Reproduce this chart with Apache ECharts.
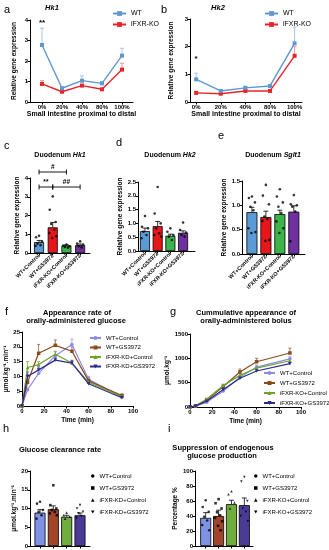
<!DOCTYPE html>
<html><head><meta charset="utf-8">
<script src="https://cdn.jsdelivr.net/npm/echarts@6/dist/echarts.min.js"></script>
<style>html,body{margin:0;padding:0;background:#fff}#c{width:329px;height:550px}</style>
</head><body><div id="c"></div><script>
// ---------- DATA ----------
const pctLabels = ['0%','20%','40%','80%','100%'];
const hk1WT = [2.78,0.67,1.04,0.91,2.26];
const hk1WTErr = [0.82,0.04,0.23,0.07,0.36];
const hk1KO = [0.88,0.50,0.80,0.62,1.58];
const hk1KOErr = [0.16,0.04,0.06,0.04,0.31];
const hk2WT = [0.82,0.40,0.51,0.58,2.12];
const hk2WTErr = [0.22,0.04,0.06,0.05,0.58];
const hk2KO = [0.33,0.30,0.40,0.40,1.67];
const hk2KOErr = [0.03,0.02,0.03,0.03,0.33];

const groupLabels = ['WT+Control','WT+GS3972','iFXR-KO+Control','iFXR-KO+GS3972'];
const duoHk1 = [0.58,1.37,0.40,0.42];
const duoHk1Err = [0.09,0.26,0.03,0.06];
const duoHk1Dots = [[0.92,0.84,0.62,0.50,0.42,0.38],[3.02,2.31,1.65,1.55,1.24,1.07,0.89,0.80],[0.45,0.40,0.36,0.32,0.28],[0.62,0.50,0.45,0.36,0.30]];
const duoHk2 = [0.72,0.90,0.55,0.66];
const duoHk2Err = [0.11,0.17,0.06,0.07];
const duoHk2Dots = [[1.27,0.88,0.82,0.70,0.58,0.46],[2.32,1.36,1.00,0.82,0.64,0.58,0.52],[0.82,0.70,0.58,0.52,0.40],[1.03,0.76,0.67,0.58,0.52]];
const duoSglt1 = [0.86,0.76,0.82,0.87];
const duoSglt1Err = [0.10,0.12,0.08,0.12];
const duoSglt1Dots = [[1.18,1.15,1.06,0.97,0.90,0.53,0.45,0.43],[1.42,1.20,1.02,0.77,0.72,0.68,0.29,0.27],[1.33,1.18,1.06,0.97,0.84,0.67,0.53,0.43],[1.21,1.02,1.00,0.97,0.87,0.26]];

const timeMin = [0,5,15,30,45,60,90];
const fNames = ['WT+Control','WT+GS3972','iFXR-KD+Control','iFXR-KD+GS3972'];
const raWTCtrl = [0,5.5,11,17,20.8,9,3];
const raWTGS = [0,8,17.8,20.5,18.5,8.5,3.5];
const raKOCtrl = [0,13,14,17.5,14.5,8,3.2];
const raKOGS = [0,10,12.2,15.5,14.5,7.5,2.8];
const raWTCtrlErr = [0,0.6,1,1.3,1.8,1,0.5];
const raWTGSErr = [0,2.5,3,1.8,1.5,1,0.6];
const raKOCtrlErr = [0,2,1,1,1,0.8,0.5];
const raKOGSErr = [0,1.5,1,1,0.8,0.5,0.4];

const gNames = ['WT+Control','WT+GS3972','iFXR-KO+Control','iFXR-KO+GS3972'];
const cumWTCtrl = [0,10,100,330,610,820,990];
const cumWTGS = [0,20,140,420,720,930,1110];
const cumKOCtrl = [0,30,160,440,650,800,950];
const cumKOGS = [0,20,120,360,590,740,890];
const cumWTCtrlErr = [0,5,15,30,40,45,50];
const cumWTGSErr = [0,8,20,40,60,70,100];
const cumKOCtrlErr = [0,8,20,30,40,40,45];
const cumKOGSErr = [0,5,15,25,30,35,40];

const hNames = ['WT+Control','WT+GS3972','iFXR-KD+Control','iFXR-KD+GS3972'];
const clearance = [8.9,9.8,7.8,8.2];
const clearanceErr = [0.8,0.9,0.4,0.6];
const clearanceDots = [[11.8,11.3,9.6,9.1,8.2,7.3],[16.2,10.9,10.0,9.6,9.1,8.7,8.2],[8.9,8.2,7.8,7.3],[10.9,10.0,9.1,8.7,8.0,7.5]];
const iNames = ['WT+Control','WT+GS3972','iFXR-KO+Control','iFXR-KO+GS3972'];
const suppression = [37.5,40,55.8,54.5];
const suppressionErr = [7,7.8,5.2,9.5];
const suppressionDots = [[61,52,45.5,39,34,28,21],[62.5,57,50,45,41,37.5,33,27,21],[73,69,58,50],[92,86,60,50,45.5,40,33]];

// ---------- STYLE ----------
const FONT = '"Liberation Sans", Arial, sans-serif';
const WT_C = '#5f97d0', KO_C = '#e8232a';
const BAR1 = ['#5b9bd5','#e8161b','#3bb54a','#7030a0'];
const BAR2 = ['#7f93e6','#a4452b','#6fae3c','#4a3c96'];
const LINE4 = ['#8c8ce8','#8b4a1c','#6aa52a','#2e2a8c'];
const INVTRI = 'path://M0,0 L10,0 L5,9 Z';
const SYM4 = ['circle','rect','triangle',INVTRI];
const JIT = [0,-3,3,-1.5,1.5,-3.5,3.5,-0.5,2,-2];

const grids = [
  {left:30, top:20, width:103, height:82},   // a
  {left:190, top:19, width:112, height:83},  // b
  {left:30, top:178, width:60, height:75},   // c
  {left:138, top:182, width:57, height:69},  // d
  {left:242, top:181, width:63, height:73},  // e
  {left:22, top:332, width:111, height:74},  // f
  {left:190, top:334, width:111, height:73}, // g
  {left:30, top:471, width:60, height:75},   // h
  {left:195, top:471, width:58, height:75}   // i
];

const axLine = {show:true, onZero:false, lineStyle:{color:'#000', width:1}};
const tickLab = {fontFamily:FONT, fontSize:6, fontWeight:'bold', color:'#000', margin:2};
function yAx(gi, min, max, interval, name, nameGap, fmt) {
  return {gridIndex:gi, type:'value', min, max, interval, name, nameLocation:'middle', nameGap,
    nameTextStyle:{fontFamily:FONT, fontSize:6.5, fontWeight:'bold', color:'#000'},
    axisLine:axLine, axisTick:{show:true, length:2.5, lineStyle:{color:'#000', width:1}},
    axisLabel:Object.assign({}, tickLab, {formatter: fmt || (v => String(v))}), splitLine:{show:false}};
}
function xCat(gi, min, max, labels, opts) {
  const vals = labels.map((_, i) => i);
  opts = opts || {};
  return {gridIndex:gi, type:'value', min, max, name:opts.name || '', nameLocation:'middle', nameGap:opts.nameGap || 10,
    nameTextStyle:{fontFamily:FONT, fontSize:7, fontWeight:'bold', color:'#000'},
    axisLine:axLine, axisTick:{show:true, customValues:vals, length:2.5, lineStyle:{color:'#000', width:1}},
    axisLabel:Object.assign({}, tickLab, {show:opts.showLabels !== false, customValues:vals, rotate:opts.rotate || 0,
      fontSize:opts.fontSize || 6, formatter:(v) => labels[Math.round(v)]}),
    splitLine:{show:false}};
}
function xTime(gi) {
  return {gridIndex:gi, type:'value', min:0, max:100, interval:20, name:'Time (min)', nameLocation:'middle', nameGap:11,
    nameTextStyle:{fontFamily:FONT, fontSize:6.5, fontWeight:'bold', color:'#000'},
    axisLine:axLine, axisTick:{show:true, length:2.5, lineStyle:{color:'#000', width:1}},
    axisLabel:tickLab, splitLine:{show:false}};
}

const xAxes = [
  xCat(0, -0.6, 4.55, pctLabels, {name:'Small intestine proximal to distal', nameGap:9}),
  xCat(1, -0.25, 4.3, pctLabels, {name:'Small intestine proximal to distal', nameGap:9}),
  xCat(2, -0.66, 3.72, groupLabels, {rotate:45, fontSize:5.5}),
  xCat(3, -0.55, 3.94, groupLabels, {rotate:45, fontSize:5.5}),
  xCat(4, -0.71, 3.8, groupLabels, {rotate:45, fontSize:5.5}),
  xTime(5), xTime(6),
  xCat(7, -0.75, 3.75, groupLabels, {showLabels:false}),
  xCat(8, -0.83, 3.67, groupLabels, {showLabels:false})
];
const f1 = v => v.toFixed(1);
const yAxes = [
  yAx(0, 0, 4, 1, 'Relative gene expression', 12),
  yAx(1, 0, 3, 1, 'Relative gene expression', 15),
  yAx(2, 0, 4, 1, 'Relative gene expression', 9),
  yAx(3, 0, 2.5, 0.5, 'Relative gene expression', 12, f1),
  yAx(4, 0, 1.5, 0.5, 'Relative gene expression', 12, f1),
  yAx(5, 0, 25, 5, 'μmol.kg\u207B\u00B9.min\u207B\u00B9', 8),
  yAx(6, 0, 1500, 500, 'μmol.kg\u207B\u00B9', 16),
  yAx(7, 0, 20, 5, 'μmol.kg\u207B\u00B9.min\u207B\u00B9', 9),
  yAx(8, 0, 100, 20, 'Percentage %', 8)
];

const series = [];
function errSeries(gi, xs, vals, errs, color, width, cap) {
  return {type:'custom', xAxisIndex:gi, yAxisIndex:gi, silent:true, z:2, clip:false,
    encode:{x:0, y:1},
    data: vals.map((v, i) => [xs[i], v, errs[i]]),
    renderItem:(p, api) => {
      const x = api.value(0), y = api.value(1), e = api.value(2);
      if (!e) return null;
      const a = api.coord([x, y]), b = api.coord([x, y + e]);
      const st = {stroke:color, lineWidth:width};
      return {type:'group', children:[
        {type:'line', shape:{x1:a[0], y1:a[1], x2:b[0], y2:b[1]}, style:st},
        {type:'line', shape:{x1:b[0]-cap, y1:b[1], x2:b[0]+cap, y2:b[1]}, style:st}]};
    }};
}
function textSeries(gi, items) {
  return {type:'custom', xAxisIndex:gi, yAxisIndex:gi, silent:true, z:6, clip:false, encode:{x:0, y:1},
    data: items,
    renderItem:(p, api) => {
      const pt = api.coord([api.value(0), api.value(1)]);
      return {type:'text', x:pt[0], y:pt[1], style:{text:items[p.dataIndex][2], fontFamily:FONT, fontSize:8, fontWeight:'bold',
        fill:'#000', align:'center', verticalAlign:'middle'}};
    }};
}
function bracketSeries(gi, items) {
  return {type:'custom', xAxisIndex:gi, yAxisIndex:gi, silent:true, z:6, clip:false, encode:{x:[0,1], y:2},
    data: items,
    renderItem:(p, api) => {
      const a = api.coord([api.value(0), api.value(2)]), b = api.coord([api.value(1), api.value(2)]);
      const st = {stroke:'#000', lineWidth:0.9};
      return {type:'group', children:[
        {type:'line', shape:{x1:a[0], y1:a[1], x2:b[0], y2:b[1]}, style:st},
        {type:'line', shape:{x1:a[0], y1:a[1]-2.5, x2:a[0], y2:a[1]+2.5}, style:st},
        {type:'line', shape:{x1:b[0], y1:b[1]-2.5, x2:b[0], y2:b[1]+2.5}, style:st},
        {type:'text', x:(a[0]+b[0])/2, y:a[1]-1.5, style:{text:items[p.dataIndex][3], fontFamily:FONT, fontSize:6.5,
          fontWeight:'bold', fill:'#000', align:'center', verticalAlign:'bottom'}}]};
    }};
}
const idx5 = pctLabels.map((_, i) => i);
const idx4 = groupLabels.map((_, i) => i);

// a, b line panels
[[0, hk1WT, hk1WTErr, hk1KO, hk1KOErr],[1, hk2WT, hk2WTErr, hk2KO, hk2KOErr]].forEach(([gi, wt, wte, ko, koe]) => {
  series.push({type:'line', name:'WT', xAxisIndex:gi, yAxisIndex:gi, data:wt.map((v, i) => [i, v]),
    symbol:'rect', symbolSize:4, lineStyle:{width:1.4, color:WT_C}, itemStyle:{color:WT_C}, z:4, silent:true});
  series.push({type:'line', name:'iFXR-KO', xAxisIndex:gi, yAxisIndex:gi, data:ko.map((v, i) => [i, v]),
    symbol:'rect', symbolSize:4, lineStyle:{width:1.4, color:KO_C}, itemStyle:{color:KO_C}, z:3, silent:true});
  series.push(errSeries(gi, idx5, wt, wte, '#9cc0e6', 0.9, 2));
  series.push(errSeries(gi, idx5, ko, koe, '#f08a8d', 0.9, 2));
});
series.push(textSeries(0, [[0, 3.87, '**']]));
series.push(textSeries(1, [[0, 1.55, '*']]));

// f, g line panels (before bar panels so legends pick line icons)
[[5, fNames, [raWTCtrl, raWTGS, raKOCtrl, raKOGS], [raWTCtrlErr, raWTGSErr, raKOCtrlErr, raKOGSErr]],
 [6, gNames, [cumWTCtrl, cumWTGS, cumKOCtrl, cumKOGS], [cumWTCtrlErr, cumWTGSErr, cumKOCtrlErr, cumKOGSErr]]]
.forEach(([gi, names, sets, errs]) => {
  sets.forEach((vals, k) => {
    series.push({type:'line', name:names[k], xAxisIndex:gi, yAxisIndex:gi, data:vals.map((v, i) => [timeMin[i], v]),
      symbol:SYM4[k], symbolSize:3.5, lineStyle:{width:1.2, color:LINE4[k]}, itemStyle:{color:LINE4[k]}, z:3+k, silent:true});
    series.push(errSeries(gi, timeMin, vals, errs[k], LINE4[k], 0.7, 1.5));
  });
});

// bar panels
function barPanel(gi, vals, errs, dots, colors, bw, syms) {
  series.push({type:'bar', xAxisIndex:gi, yAxisIndex:gi, barWidth:bw, silent:true, z:2,
    data: vals.map((v, i) => ({value:[i, v], itemStyle:{color:colors[i]}})),
    itemStyle:{borderColor:'#000', borderWidth:0.8}});
  series.push(errSeries(gi, idx4, vals, errs, '#000', 0.8, 2.5));
  const data = [];
  dots.forEach((arr, g) => arr.forEach((v, k) => data.push({value:[g, v], symbol:syms ? syms[g] : 'circle',
    symbolOffset:[JIT[k % JIT.length], 0]})));
  series.push({type:'scatter', xAxisIndex:gi, yAxisIndex:gi, symbolSize:2.6, itemStyle:{color:'#000'}, data, z:5, silent:true});
}
barPanel(2, duoHk1, duoHk1Err, duoHk1Dots, BAR1, 10);
barPanel(3, duoHk2, duoHk2Err, duoHk2Dots, BAR1, 10);
barPanel(4, duoSglt1, duoSglt1Err, duoSglt1Dots, BAR1, 11);
barPanel(7, clearance, clearanceErr, clearanceDots, BAR2, 11, SYM4);
barPanel(8, suppression, suppressionErr, suppressionDots, BAR2, 11, SYM4);
series.push(bracketSeries(2, [[0, 2, 4.32, '#'], [0, 1, 3.52, '**'], [1, 3, 3.52, '##']]));

// ---------- LEGENDS ----------
const legText = {fontFamily:FONT, fontSize:6, color:'#000'};
function leg(names, left, top, gap, w, h, extra) {
  return Object.assign({data:names, left, top, orient:'vertical', itemGap:gap, itemWidth:w, itemHeight:h,
    textStyle:legText, selectedMode:false, padding:0}, extra || {});
}
const dotLeg = names => names.map((n, i) => ({name:n, icon:SYM4[i], itemStyle:{color:'#000', borderWidth:0}}));
const legends = [
  leg(['WT','iFXR-KO'], 112, 10, 4, 13, 6, {textStyle:Object.assign({}, legText, {fontSize:7})}),
  leg(['WT','iFXR-KO'], 264, 10, 4, 13, 6, {textStyle:Object.assign({}, legText, {fontSize:7})}),
  leg(fNames, 89, 335, 3.5, 11, 5),
  leg(gNames, 263, 370, 4, 11, 5),
  leg(dotLeg(hNames), 91, 473, 6, 3.5, 3.5),
  leg(dotLeg(iNames), 254, 473, 6, 3.5, 3.5)
];

// ---------- TEXT ----------
function txt(t, x, y, size, opts) {
  opts = opts || {};
  return {type:'text', x, y, silent:true, style:Object.assign({text:t, fontFamily:FONT, fontSize:size,
    fontWeight:opts.weight || 'bold', fontStyle:opts.style || 'normal', fill:'#000', align:opts.align || 'center',
    verticalAlign:'middle'}, opts.rich ? {rich:opts.rich} : {})};
}
const rich = {n:{fontFamily:FONT, fontSize:7, fontWeight:'bold'}, i:{fontFamily:FONT, fontSize:7, fontWeight:'bold', fontStyle:'italic'}};
const graphic = [
  txt('a', 4, 10, 11, {weight:'normal', align:'left'}),
  txt('b', 161, 10, 11, {weight:'normal', align:'left'}),
  txt('Hk1', 52, 7.5, 7.5, {style:'italic'}),
  txt('Hk2', 218, 7.5, 7.5, {style:'italic'}),
  txt('c', 4, 146, 11, {weight:'normal', align:'left'}),
  txt('{n|Duodenum }{i|Hk1}', 60, 155, 7, {rich}),
  txt('d', 116, 143, 11, {weight:'normal', align:'left'}),
  txt('{n|Duodenum }{i|Hk2}', 170, 155, 7, {rich}),
  txt('e', 218, 136, 11, {weight:'normal', align:'left'}),
  txt('{n|Duodenum }{i|Sglt1}', 273, 155, 7, {rich}),
  txt('f', 5, 312, 11, {weight:'normal', align:'left'}),
  txt('Appearance rate of', 77, 313, 7.5),
  txt('orally-administered glucose', 76, 321, 7.5),
  txt('g', 170, 312, 11, {weight:'normal', align:'left'}),
  txt('Cummulative appearance of', 246, 313, 7.5),
  txt('orally-administered bolus', 246, 321, 7.5),
  txt('h', 3, 429, 11, {weight:'normal', align:'left'}),
  txt('Glucose clearance rate', 60, 450, 7.5),
  txt('i', 168, 429, 11, {weight:'normal', align:'left'}),
  txt('Suppression of endogenous', 223, 448, 7.5),
  txt('glucose production', 222, 456, 7.5)
];

const chart = echarts.init(document.getElementById('c'), null, {renderer:'canvas'});
chart.setOption({
  animation:false, backgroundColor:'#fff',
  grid:grids, xAxis:xAxes, yAxis:yAxes, series, legend:legends, graphic
});
</script></body></html>
